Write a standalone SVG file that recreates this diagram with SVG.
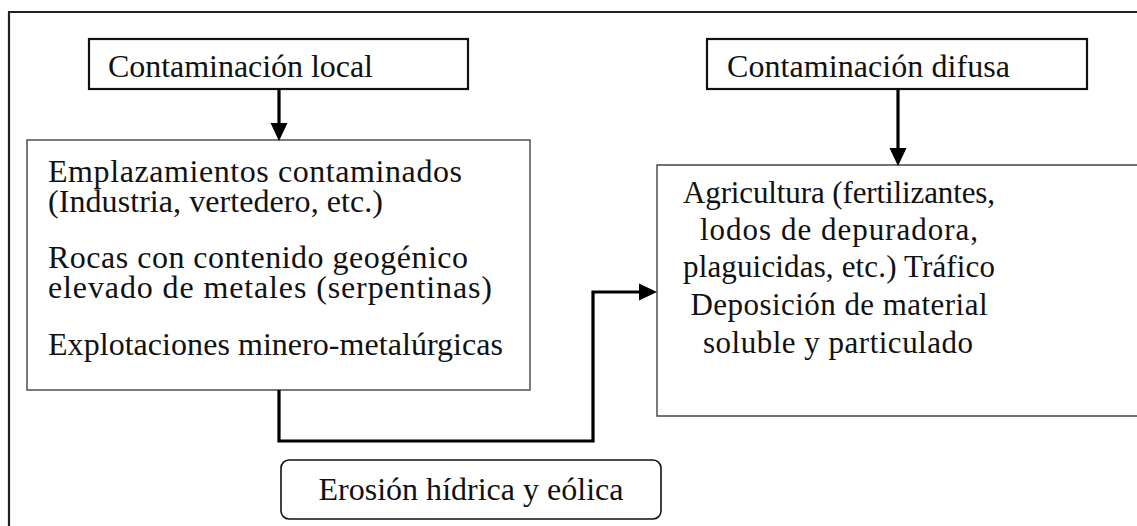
<svg xmlns="http://www.w3.org/2000/svg" width="1137" height="526" viewBox="0 0 1137 526">
<style>
text{font-family:"Liberation Serif","Times New Roman",serif;font-size:31px;fill:#111}
.l{font-size:32px}
.box{fill:#fff;stroke:#111;stroke-width:2.2}
.big{fill:#fff;stroke:#444;stroke-width:1.4}
.con{fill:none;stroke:#000;stroke-width:3.2}
.c{text-anchor:middle}
</style>
<defs>
<marker id="ah" markerUnits="userSpaceOnUse" markerWidth="18" markerHeight="18" refX="0" refY="8.5" orient="auto" overflow="visible">
<path d="M0,0 L18,8.5 L0,17 Z" fill="#000"/>
</marker>
</defs>
<rect width="1137" height="526" fill="#fff"/>
<path d="M9,526 V12 H1137" fill="none" stroke="#222" stroke-width="2.2"/>
<g id="local">
<rect class="box" x="89" y="39" width="379" height="50"/>
<text class="l" x="108" y="77" textLength="265">Contaminación local</text>
</g>
<g id="difusa">
<rect class="box" x="707" y="39" width="380" height="50"/>
<text class="l" x="727" y="77" textLength="283">Contaminación difusa</text>
</g>
<g id="fuentes-locales">
<rect class="big" x="27" y="140" width="503" height="250"/>
<text class="l" x="48" y="182" textLength="414">Emplazamientos contaminados</text>
<text class="l" x="48" y="212" textLength="335">(Industria, vertedero, etc.)</text>
<text class="l" x="48" y="268" textLength="420">Rocas con contenido geogénico</text>
<text class="l" x="48" y="298" textLength="444">elevado de metales (serpentinas)</text>
<text class="l" x="48" y="355" textLength="455">Explotaciones minero-metalúrgicas</text>
</g>
<g id="fuentes-difusas">
<path class="big" d="M1140,165 H657 V416 H1140"/>
<text class="c" x="839" y="203" textLength="312">Agricultura (fertilizantes,</text>
<text class="c" x="839" y="240" textLength="278">lodos de depuradora,</text>
<text class="c" x="839" y="277" textLength="312">plaguicidas, etc.) Tráfico</text>
<text class="c" x="839" y="315" textLength="297">Deposición de material</text>
<text class="c" x="838" y="353" textLength="270">soluble y particulado</text>
</g>
<g id="erosion">
<rect x="281" y="460" width="380" height="59" rx="8" fill="#fff" stroke="#111" stroke-width="1.6"/>
<text class="c l" x="471" y="500" textLength="305">Erosión hídrica y eólica</text>
</g>
<g id="connectors">
<path class="con" d="M279,89 V123" marker-end="url(#ah)"/>
<path class="con" d="M898,89 V148" marker-end="url(#ah)"/>
<path class="con" d="M279,390 V441 H593 V292 H639" marker-end="url(#ah)"/>
</g>
</svg>
